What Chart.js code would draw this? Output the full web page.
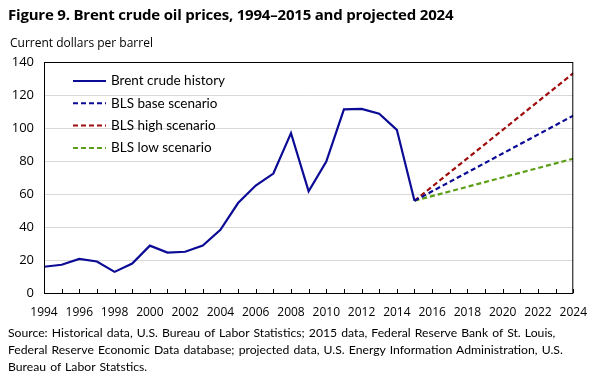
<!DOCTYPE html>
<html>
<head>
<meta charset="utf-8">
<script src="https://cdn.jsdelivr.net/npm/chart.js@4"></script>
<style>
  body { margin: 0; width: 599px; height: 383px; background: #fff; font-family: "Open Sans", sans-serif; color: #000; overflow: hidden; }
  #wrap { position: relative; width: 599px; height: 383px; }
  #chart { position: absolute; left: 0; top: 0; }
  .title { position: absolute; left: 8px; top: 4px; font-size: 15px; font-weight: bold; letter-spacing: -0.2px; }
  .units { position: absolute; left: 10px; top: 34px; font-size: 12px; }
  .source { position: absolute; left: 8px; top: 324px; font-family: Lato, sans-serif; font-size: 12.2px; line-height: 17px; word-spacing: 1px; width: 590px; }
</style>
</head>
<body>
<div id="wrap">
  <canvas id="chart" width="599" height="383"></canvas>
  <div class="title">Figure 9. Brent crude oil prices, 1994–2015 and projected 2024</div>
  <div class="units">Current dollars per barrel</div>
  <div class="source">Source: Historical data, U.S. Bureau of Labor Statistics; 2015 data, Federal Reserve Bank of St. Louis,<br>Federal Reserve Economic Data database; projected data, U.S. Energy Information Administration, U.S.<br>Bureau of Labor Statstics.</div>
</div>
<script>
// historico
const anos = [1994, 1995, 1996, 1997, 1998, 1999, 2000, 2001, 2002, 2003, 2004,
  2005, 2006, 2007, 2008, 2009, 2010, 2011, 2012, 2013, 2014, 2015];
const brent = [15.9, 17.1, 20.7, 19.1, 12.8, 17.9, 28.7, 24.5, 25.0, 28.8, 38.3,
  54.5, 65.1, 72.4, 96.9, 61.7, 79.6, 111.3, 111.6, 108.6, 98.9, 55.9];

// projecoes 2015 -> 2024
const anosProj = [2015, 2024];
const base = [55.9, 107.5];
const alta = [55.9, 133.2];
const baixa = [55.9, 81.4];

const yTicks = [0, 20, 40, 60, 80, 100, 120, 140];

const azul = '#0b0b96';
const vermelho = '#a00d0d';
const verde = '#5c9e16';

function pontos(xs, ys) {
  return xs.map((x, i) => ({ x: x, y: ys[i] }));
}

// legenda dentro do grafico + borda + marcas do eixo x
const extras = {
  id: 'extras',
  afterDatasetsDraw(chart) {
    const { ctx, chartArea: a, scales } = chart;
    ctx.save();
    ctx.strokeStyle = '#000';
    ctx.lineWidth = 1;
    ctx.strokeRect(a.left + 0.5, a.top + 0.5, a.right - a.left - 1, a.bottom - a.top);
    // ticks para dentro
    scales.x.ticks.forEach(t => {
      const px = Math.round(scales.x.getPixelForValue(t.value)) + 0.5;
      ctx.beginPath();
      ctx.moveTo(px, a.bottom);
      ctx.lineTo(px, a.bottom - 4);
      ctx.stroke();
    });
    // legenda
    ctx.font = '13.5px Lato, sans-serif';
    ctx.textBaseline = 'middle';
    ctx.fillStyle = '#000';
    chart.data.datasets.forEach((ds, i) => {
      const y = a.top + 19 + i * 22.3;
      ctx.beginPath();
      ctx.strokeStyle = ds.borderColor;
      ctx.lineWidth = 2;
      ctx.setLineDash(ds.borderDash || []);
      ctx.moveTo(a.left + 29, y);
      ctx.lineTo(a.left + 62, y);
      ctx.stroke();
      ctx.setLineDash([]);
      ctx.fillText(ds.label, a.left + 67, y);
    });
    ctx.restore();
  }
};

new Chart(document.getElementById('chart'), {
  type: 'scatter',
  data: {
    datasets: [
      { label: 'Brent crude history', data: pontos(anos, brent), borderColor: azul, borderWidth: 2.2, showLine: true, pointRadius: 0 },
      { label: 'BLS base scenario', data: pontos(anosProj, base), borderColor: azul, borderWidth: 2.2, borderDash: [5, 3], showLine: true, pointRadius: 0 },
      { label: 'BLS high scenario', data: pontos(anosProj, alta), borderColor: vermelho, borderWidth: 2.2, borderDash: [5, 3], showLine: true, pointRadius: 0 },
      { label: 'BLS low scenario', data: pontos(anosProj, baixa), borderColor: verde, borderWidth: 2.2, borderDash: [5, 3], showLine: true, pointRadius: 0 }
    ]
  },
  options: {
    responsive: false,
    animation: false,
    layout: { padding: { left: 0, right: 22, top: 62, bottom: 60 } },
    plugins: { legend: { display: false }, tooltip: { enabled: false } },
    scales: {
      x: {
        type: 'linear',
        min: 1994,
        max: 2024,
        afterBuildTicks: s => { s.ticks = []; for (let v = 1994; v <= 2024; v++) s.ticks.push({ value: v }); },
        afterFit: s => { s.height = 30; },
        grid: { display: false, drawTicks: false },
        border: { display: false },
        ticks: {
          autoSkip: false,
          maxRotation: 0,
          padding: 12,
          color: '#000',
          font: { family: 'Open Sans', size: 12 },
          callback: v => (v % 2 === 0 ? String(v) : '')
        }
      },
      y: {
        min: 0,
        max: 140,
        afterBuildTicks: s => { s.ticks = yTicks.map(v => ({ value: v })); },
        afterFit: s => { s.width = 44; },
        grid: { color: '#d9d9d9', drawTicks: false, lineWidth: 1 },
        border: { display: false },
        ticks: {
          padding: 10,
          color: '#000',
          font: { family: 'Open Sans', size: 13 }
        }
      }
    }
  },
  plugins: [extras]
});
</script>
</body>
</html>
